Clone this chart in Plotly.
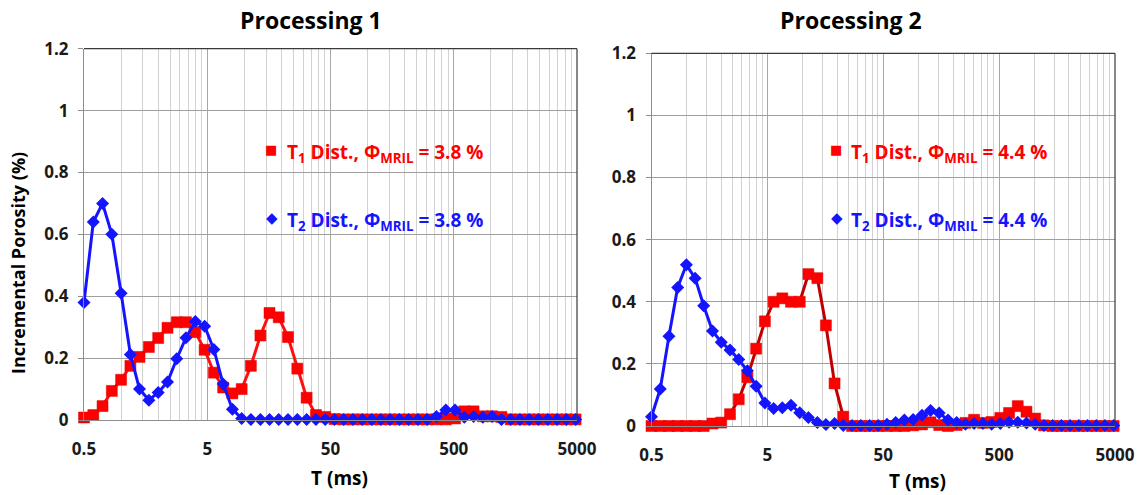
import math
import plotly.graph_objects as go

# ---------------- data ----------------
T_ms = [0.5, 0.595, 0.707, 0.841, 1.0, 1.19, 1.41, 1.68, 2.0, 2.38,
        2.83, 3.36, 4.0, 4.76, 5.66, 6.73, 8.0, 9.51, 11.3, 13.5,
        16.0, 19.0, 22.6, 26.9, 32.0, 38.1, 45.3, 53.8, 64.0, 76.1,
        90.5, 108, 128, 152, 181, 215, 256, 304, 362, 431,
        512, 609, 724, 861, 1024, 1218, 1448, 1722, 2048, 2436,
        2896, 3444, 4096, 4871]

p1_t1 = [0.008, 0.016, 0.045, 0.094, 0.13, 0.175, 0.204, 0.236, 0.265, 0.298,
         0.316, 0.316, 0.284, 0.227, 0.153, 0.105, 0.086, 0.10, 0.175, 0.273,
         0.346, 0.332, 0.268, 0.166, 0.072, 0.016, 0.01, 0.003, 0.002, 0.002,
         0.002, 0.002, 0.002, 0.002, 0.002, 0.002, 0.002, 0.002, 0.002, 0.002,
         0.005, 0.028, 0.028, 0.012, 0.012, 0.01, 0.002, 0.002, 0.002, 0.002,
         0.002, 0.002, 0.002, 0.002]

p1_t2 = [0.38, 0.64, 0.70, 0.60, 0.41, 0.212, 0.10, 0.064, 0.089, 0.123,
         0.198, 0.266, 0.318, 0.303, 0.228, 0.116, 0.035, 0.005, 0.002, 0.002,
         0.002, 0.002, 0.002, 0.002, 0.002, 0.002, 0.002, 0.002, 0.002, 0.002,
         0.002, 0.002, 0.002, 0.002, 0.002, 0.002, 0.002, 0.002, 0.011, 0.032,
         0.032, 0.009, 0.011, 0.009, 0.011, 0.002, 0.002, 0.002, 0.002, 0.002,
         0.002, 0.002, 0.002, 0.002]

p2_t1 = [0.0, 0.0, 0.0, 0.0, 0.0, 0.0, 0.0, 0.008, 0.011, 0.038,
         0.086, 0.157, 0.249, 0.337, 0.40, 0.411, 0.40, 0.40, 0.489, 0.476,
         0.324, 0.137, 0.030, 0.0, 0.0, 0.0, 0.0, 0.0, 0.0, 0.0,
         0.002, 0.005, 0.012, 0.003, 0.0, 0.003, 0.01, 0.02, 0.01, 0.013,
         0.026, 0.042, 0.064, 0.046, 0.024, 0.002, 0.0, 0.0, 0.0, 0.0,
         0.0, 0.0, 0.0, 0.0]

p2_t2 = [0.030, 0.119, 0.289, 0.446, 0.519, 0.476, 0.387, 0.306, 0.270, 0.245,
         0.214, 0.178, 0.128, 0.074, 0.056, 0.059, 0.067, 0.043, 0.027, 0.011,
         0.005, 0.008, 0.002, 0.002, 0.002, 0.002, 0.002, 0.006, 0.011, 0.019,
         0.021, 0.035, 0.05, 0.042, 0.019, 0.011, 0.006, 0.008, 0.008, 0.006,
         0.008, 0.012, 0.012, 0.01, 0.006, 0.002, 0.002, 0.002, 0.002, 0.002,
         0.002, 0.002, 0.002, 0.002]

major_ticks = [0.5, 5, 50, 500, 5000]
major_labels = ["0.5", "5", "50", "500", "5000"]
minor_ticks = [m * d for d in (0.5, 5, 50, 500) for m in (2, 3, 4, 5, 6, 7, 8, 9)]

titles = ["Processing 1", "Processing 2"]
leg_t1 = ["T<sub>1</sub> Dist., Φ<sub>MRIL</sub> = 3.8 %", "T<sub>1</sub> Dist., Φ<sub>MRIL</sub> = 4.4 %"]
leg_t2 = ["T<sub>2</sub> Dist., Φ<sub>MRIL</sub> = 3.8 %", "T<sub>2</sub> Dist., Φ<sub>MRIL</sub> = 4.4 %"]

# ---------------- style ----------------
W, H = 1145, 495
FONT = "Open Sans"
RED = "#ff0000"
BLUE = "#1414ff"
TXT = "#1a1a1a"


def px(x):
    return x / W


def py(y):
    return 1 - y / H


fig = go.Figure()

panels = [
    dict(xa="x", ya="y", t1=p1_t1, t2=p1_t2, redline="#ff1010"),
    dict(xa="x2", ya="y2", t1=p2_t1, t2=p2_t2, redline="#c00000"),
]
for p in panels:
    fig.add_trace(go.Scatter(x=T_ms, y=p["t1"], xaxis=p["xa"], yaxis=p["ya"], mode="lines+markers",
                             line=dict(color=p["redline"], width=3), cliponaxis=False,
                             marker=dict(symbol="square", size=11, color=RED,
                                         line=dict(color="#e00000", width=0.5)),
                             showlegend=False))
    fig.add_trace(go.Scatter(x=T_ms, y=p["t2"], xaxis=p["xa"], yaxis=p["ya"], mode="lines+markers",
                             line=dict(color=BLUE, width=3), cliponaxis=False,
                             marker=dict(symbol="diamond", size=10, color=BLUE),
                             showlegend=False))

xdom = [[px(84), px(577)], [px(651.5), px(1115)]]
ydom = [[py(420), py(48.7)], [py(426), py(53.3)]]

tickfont = dict(family=FONT, size=17, color=TXT, weight="bold")

for k in range(2):
    sfx = "" if k == 0 else str(k + 1)
    fig.layout["xaxis" + sfx] = dict(
        type="log", range=[math.log10(0.5), math.log10(5000)], domain=xdom[k],
        anchor="y" + sfx, tickmode="array", tickvals=major_ticks, ticktext=major_labels,
        showgrid=True, gridcolor="#a8a8a8", gridwidth=1, automargin=False,
        minor=dict(tickvals=minor_ticks, showgrid=True, gridcolor="#d2d2d2", gridwidth=1, ticks=""),
        showline=True, linecolor="#8c8c8c", linewidth=1, ticks="", zeroline=False,
        tickfont=tickfont, ticklabelstandoff=14,
    )
    fig.layout["yaxis" + sfx] = dict(
        range=[0, 1.2], domain=ydom[k], anchor="x" + sfx, tickmode="array", automargin=False,
        tickvals=[0, 0.2, 0.4, 0.6, 0.8, 1.0, 1.2], ticktext=["0", "0.2", "0.4", "0.6", "0.8", "1", "1.2"],
        showgrid=True, gridcolor="#a0a0a0", gridwidth=1,
        showline=True, linecolor="#8c8c8c", linewidth=1, ticks="outside", ticklen=5,
        tickcolor="#8c8c8c", zeroline=False, tickfont=tickfont, ticklabelstandoff=6,
    )
    # dark top and right border
    fig.add_shape(type="line", xref="x%s domain" % sfx, yref="y%s domain" % sfx,
                  x0=0, x1=1, y0=1, y1=1, line=dict(color="#3a3a3a", width=1.2))
    fig.add_shape(type="line", xref="x%s domain" % sfx, yref="y%s domain" % sfx,
                  x0=1, x1=1, y0=0, y1=1, line=dict(color="#3a3a3a", width=1.2))

ann = []
# titles
for k, (cx) in enumerate([311, 851]):
    ann.append(dict(text=titles[k], x=px(cx), y=py(20), xref="paper", yref="paper",
                    xanchor="center", yanchor="middle", showarrow=False,
                    font=dict(family=FONT, size=23, color="#000000", weight="bold")))
# x axis titles
for cx, cy in [(339, 478), (917, 481)]:
    ann.append(dict(text="T (ms)", x=px(cx), y=py(cy), xref="paper", yref="paper",
                    xanchor="center", yanchor="middle", showarrow=False,
                    font=dict(family=FONT, size=19, color="#000000", weight="bold")))
# y axis title
ann.append(dict(text="Incremental Porosity (%)", x=px(18), y=py(263), xref="paper", yref="paper",
                xanchor="center", yanchor="middle", showarrow=False, textangle=-90,
                font=dict(family=FONT, size=18, color="#000000", weight="bold")))
# legend-like labels
for k, (mx, tx) in enumerate([(271, 285), (836, 849)]):
    ann.append(dict(text="■", x=px(mx), y=py(150), xref="paper", yref="paper",
                    xanchor="center", yanchor="middle", showarrow=False,
                    font=dict(family="DejaVu Sans", size=13, color=RED)))
    ann.append(dict(text="◆", x=px(mx + 1), y=py(218), xref="paper", yref="paper",
                    xanchor="center", yanchor="middle", showarrow=False,
                    font=dict(family="DejaVu Sans", size=15, color=BLUE)))
    ann.append(dict(text=leg_t1[k], x=px(tx), y=py(153), xref="paper", yref="paper",
                    xanchor="left", yanchor="middle", showarrow=False,
                    font=dict(family=FONT, size=19, color=RED, weight="bold")))
    ann.append(dict(text=leg_t2[k], x=px(tx), y=py(221), xref="paper", yref="paper",
                    xanchor="left", yanchor="middle", showarrow=False,
                    font=dict(family=FONT, size=19, color=BLUE, weight="bold")))

fig.update_layout(width=W, height=H, margin=dict(l=0, r=0, t=0, b=0, autoexpand=False),
                  paper_bgcolor="white", plot_bgcolor="white", annotations=ann,
                  font=dict(family=FONT))

fig.write_html("out.html")
